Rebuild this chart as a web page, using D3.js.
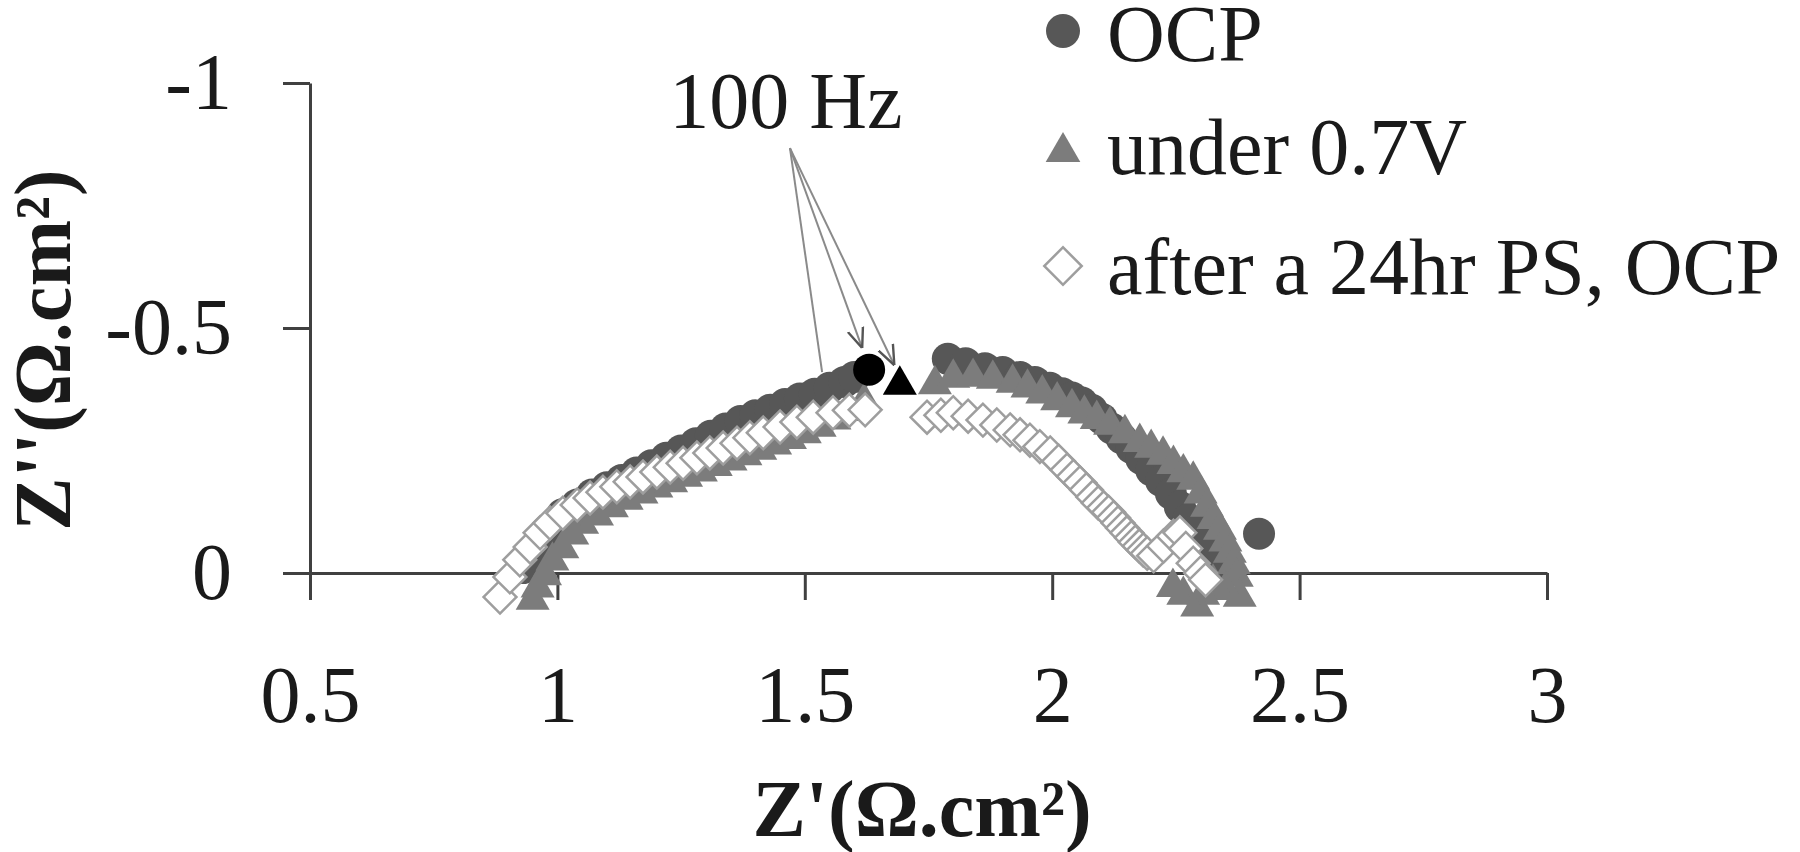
<!DOCTYPE html>
<html>
<head>
<meta charset="utf-8">
<script src="https://cdn.jsdelivr.net/npm/d3@7"></script>
<style>
  html, body { margin: 0; padding: 0; background: #fff; }
  svg { display: block; }
  text { font-family: "Liberation Serif", "Times New Roman", serif; }
</style>
</head>
<body>
<svg id="chart" width="1800" height="852"></svg>
<script>
// === Data (Z' and Z'' in ohm.cm2, Z'' negative = up) ===
const ocpRe = [0.93, 0.95, 0.97, 0.99, 1.01, 1.04, 1.07, 1.10, 1.13, 1.16, 1.19, 1.22, 1.25, 1.28, 1.31,
  1.34, 1.37, 1.40, 1.43, 1.46, 1.49, 1.52, 1.55, 1.58, 1.60,
  1.789, 1.825, 1.864, 1.90, 1.935, 1.965, 1.995, 2.02, 2.04, 2.06, 2.08, 2.10, 2.12, 2.14, 2.16,
  2.18, 2.20, 2.22, 2.24, 2.258, 2.275, 2.293, 2.31, 2.325, 2.335, 2.418];
const ocpIm = [-0.01, -0.04, -0.07, -0.095, -0.12, -0.14, -0.16, -0.175, -0.19, -0.205, -0.22, -0.235, -0.25, -0.265, -0.28,
  -0.295, -0.31, -0.322, -0.333, -0.345, -0.356, -0.366, -0.378, -0.39, -0.40,
  -0.437, -0.428, -0.418, -0.41, -0.40, -0.39, -0.378, -0.367, -0.358, -0.348, -0.333, -0.315, -0.295, -0.275, -0.255,
  -0.233, -0.21, -0.188, -0.162, -0.135, -0.11, -0.088, -0.065, -0.041, -0.02, -0.08];

const v07Re = [0.95, 0.96, 0.975, 0.99, 1.01, 1.03, 1.05, 1.08, 1.11, 1.14, 1.17, 1.20, 1.23, 1.26, 1.29,
  1.32, 1.35, 1.38, 1.41, 1.44, 1.47, 1.50, 1.53, 1.56, 1.59, 1.62,
  1.763, 1.80, 1.84, 1.88, 1.92, 1.95, 1.98, 2.01, 2.04, 2.065, 2.09, 2.117, 2.147, 2.177, 2.20,
  2.224, 2.245, 2.265, 2.285, 2.30, 2.313, 2.326, 2.339, 2.35, 2.359, 2.367, 2.373, 2.379,
  2.35, 2.325, 2.305, 2.293, 2.265, 2.244];
const v07Im = [0.055, 0.03, 0.005, -0.025, -0.05, -0.078, -0.1, -0.117, -0.134, -0.149, -0.162, -0.174, -0.185, -0.196, -0.207,
  -0.218, -0.229, -0.24, -0.251, -0.262, -0.273, -0.285, -0.298, -0.313, -0.33, -0.35,
  -0.385, -0.398, -0.40, -0.396, -0.388, -0.378, -0.366, -0.352, -0.338, -0.325, -0.314, -0.302, -0.285, -0.267, -0.255,
  -0.241, -0.222, -0.205, -0.19, -0.162, -0.135, -0.11, -0.088, -0.064, -0.041, -0.018, 0.008, 0.049,
  0.035, 0.02, 0.045, 0.069, 0.045, 0.029];

const psRe = [0.884, 0.904, 0.924, 0.945, 0.965, 0.985, 1.011, 1.040, 1.066, 1.092, 1.120, 1.147, 1.173, 1.201, 1.228,
  1.254, 1.282, 1.308, 1.335, 1.363, 1.389, 1.416, 1.450, 1.484, 1.517, 1.557, 1.59, 1.622,
  1.747, 1.775, 1.800, 1.830, 1.860, 1.888, 1.915, 1.935, 1.955, 1.975, 1.996, 2.013, 2.030, 2.043, 2.056,
  2.069, 2.082, 2.093, 2.104, 2.114, 2.124, 2.133, 2.142, 2.151, 2.160, 2.168, 2.176, 2.184, 2.192,
  2.205, 2.225, 2.245, 2.258, 2.27, 2.285, 2.30, 2.31];
const psIm = [0.049, 0.008, -0.027, -0.053, -0.082, -0.102, -0.122, -0.139, -0.153, -0.165, -0.176, -0.186, -0.196, -0.206, -0.216,
  -0.224, -0.235, -0.245, -0.255, -0.265, -0.276, -0.286, -0.298, -0.308, -0.318, -0.327, -0.332, -0.333,
  -0.318, -0.322, -0.327, -0.320, -0.312, -0.302, -0.292, -0.282, -0.271, -0.258, -0.245, -0.228, -0.210, -0.197, -0.184,
  -0.170, -0.155, -0.143, -0.133, -0.124, -0.113, -0.102, -0.092, -0.082, -0.072, -0.063, -0.055, -0.047, -0.040,
  -0.035, -0.055, -0.075, -0.082, -0.05, -0.02, 0.0, 0.014];

// 100 Hz points (highlighted black)
const hzOcp = [1.63, -0.415];
const hz07 = [1.692, -0.384];

const xTicks = [0.5, 1, 1.5, 2, 2.5, 3];
const yTicks = [0, -0.5, -1];

const seriesNames = ['OCP', 'under 0.7V', 'after a 24hr PS, OCP'];

// annotation: label anchor, arrow apex and arrow targets (data units)
const hzLabel = '100 Hz';
const hzLabelPos = [1.226, -0.908];
const arrowApex = [1.470, -0.867];
const arrowTargets = [[1.535, -0.41, false], [1.616, -0.459, true], [1.681, -0.424, true]];

// === Setup ===
const svg = d3.select('#chart');
const x = d3.scaleLinear().domain([0.5, 3]).range([310, 1547]);
const y = d3.scaleLinear().domain([0, -1]).range([573, 83]);

const AXIS_COLOR = '#404040';
const CIRCLE_COLOR = '#575757';
const TRI_COLOR = '#7c7c7c';
const DIAMOND_STROKE = '#9e9e9e';

const circleSym = d3.symbol().type(d3.symbolCircle).size(Math.PI * 16 * 16);
const triSym = d3.symbol().type(d3.symbolTriangle).size(500);
const diaSym = d3.symbol().type(d3.symbolSquare).size(540);

// --- Axes ---
const xAxis = svg.append('g')
  .attr('transform', `translate(0,${y(0)})`)
  .call(d3.axisBottom(x).tickValues(xTicks).tickFormat(d => String(d))
    .tickSize(27).tickSizeOuter(0).tickPadding(65));

const yAxis = svg.append('g')
  .attr('transform', `translate(${x(0.5)},0)`)
  .call(d3.axisLeft(y).tickValues(yTicks).tickFormat(d => String(d))
    .tickSize(27).tickSizeOuter(0).tickPadding(51));

[xAxis, yAxis].forEach(g => {
  g.select('.domain').attr('stroke', AXIS_COLOR).attr('stroke-width', 3);
  g.selectAll('.tick line').attr('stroke', AXIS_COLOR).attr('stroke-width', 3);
  g.selectAll('.tick text')
    .attr('fill', '#1a1a1a')
    .style('font-family', '"Liberation Serif", serif')
    .style('font-size', '80px');
});

// axis titles
svg.append('text')
  .attr('x', 922).attr('y', 836)
  .attr('text-anchor', 'middle')
  .style('font-size', '80px').style('font-weight', 'bold')
  .attr('fill', '#1a1a1a')
  .text("Z'(\u03A9.cm\u00B2)");

svg.append('text')
  .attr('transform', 'translate(70,350) rotate(-90)')
  .attr('text-anchor', 'middle')
  .style('font-size', '80px').style('font-weight', 'bold')
  .attr('fill', '#1a1a1a')
  .text("Z''(\u03A9.cm\u00B2)");

// --- Series ---
const plot = svg.append('g');

plot.selectAll('path.ocp')
  .data(d3.zip(ocpRe, ocpIm))
  .join('path')
  .attr('class', 'ocp')
  .attr('d', circleSym)
  .attr('transform', d => `translate(${x(d[0])},${y(d[1])})`)
  .attr('fill', CIRCLE_COLOR);

plot.selectAll('path.v07')
  .data(d3.zip(v07Re, v07Im))
  .join('path')
  .attr('class', 'v07')
  .attr('d', triSym)
  .attr('transform', d => `translate(${x(d[0])},${y(d[1])})`)
  .attr('fill', TRI_COLOR);

plot.selectAll('path.ps')
  .data(d3.zip(psRe, psIm))
  .join('path')
  .attr('class', 'ps')
  .attr('d', diaSym)
  .attr('transform', d => `translate(${x(d[0])},${y(d[1])}) rotate(45)`)
  .attr('fill', '#fff')
  .attr('stroke', DIAMOND_STROKE)
  .attr('stroke-width', 2.5);

// 100 Hz points
plot.append('path')
  .attr('d', circleSym)
  .attr('transform', `translate(${x(hzOcp[0])},${y(hzOcp[1])})`)
  .attr('fill', '#000');
plot.append('path')
  .attr('d', triSym)
  .attr('transform', `translate(${x(hz07[0])},${y(hz07[1])})`)
  .attr('fill', '#000');

// --- Annotation ---
svg.append('defs').append('marker')
  .attr('id', 'vhead')
  .attr('viewBox', '0 0 10 10')
  .attr('refX', 10).attr('refY', 5)
  .attr('markerWidth', 20).attr('markerHeight', 20)
  .attr('markerUnits', 'userSpaceOnUse')
  .attr('orient', 'auto')
  .append('path')
  .attr('d', 'M0,1 L10,5 L0,9')
  .attr('fill', 'none')
  .attr('stroke', '#555')
  .attr('stroke-width', 1.2);

svg.append('g').selectAll('line')
  .data(arrowTargets)
  .join('line')
  .attr('x1', x(arrowApex[0])).attr('y1', y(arrowApex[1]))
  .attr('x2', d => x(d[0])).attr('y2', d => y(d[1]))
  .attr('stroke', '#8a8a8a')
  .attr('stroke-width', 2)
  .attr('marker-end', d => d[2] ? 'url(#vhead)' : null);

svg.append('text')
  .attr('x', x(hzLabelPos[0])).attr('y', y(hzLabelPos[1]))
  .style('font-size', '80px')
  .attr('fill', '#1a1a1a')
  .text(hzLabel);

// --- Legend ---
const legendRows = [
  { name: seriesNames[0], sym: d3.symbol().type(d3.symbolCircle).size(Math.PI * 17 * 17), fill: CIRCLE_COLOR, my: 31, ty: 61 },
  { name: seriesNames[1], sym: d3.symbol().type(d3.symbolTriangle).size(520), fill: TRI_COLOR, my: 152, ty: 174 },
  { name: seriesNames[2], sym: d3.symbol().type(d3.symbolSquare).size(700), fill: '#fff', stroke: DIAMOND_STROKE, rot: 45, my: 266, ty: 294 }
];

const legend = svg.append('g');
legendRows.forEach(r => {
  legend.append('path')
    .attr('d', r.sym)
    .attr('transform', `translate(1063,${r.my})` + (r.rot ? ` rotate(${r.rot})` : ''))
    .attr('fill', r.fill)
    .attr('stroke', r.stroke || null)
    .attr('stroke-width', r.stroke ? 2.5 : null);
  legend.append('text')
    .attr('x', 1107).attr('y', r.ty)
    .style('font-size', '80px')
    .attr('fill', '#1a1a1a')
    .text(r.name);
});
</script>
</body>
</html>
